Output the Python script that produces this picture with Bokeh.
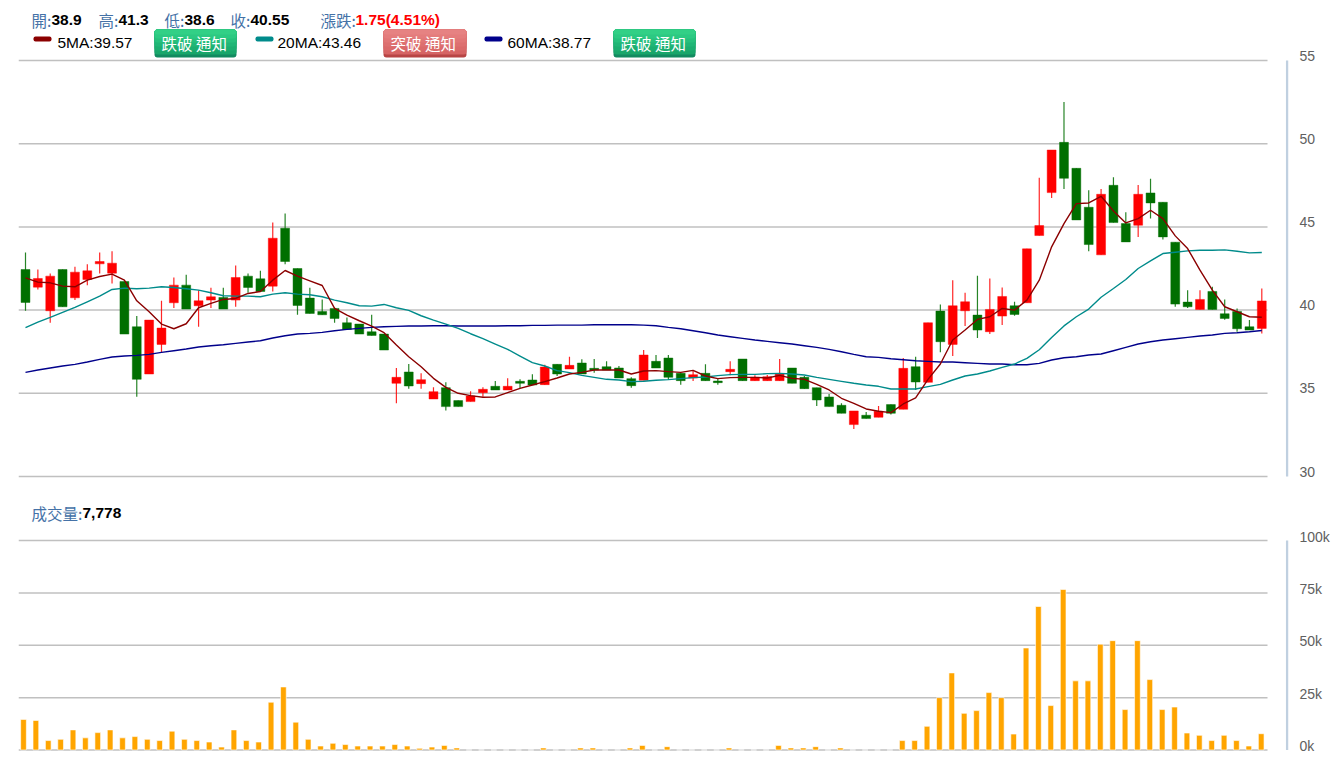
from bokeh.embed import file_html
from bokeh.layouts import column
from bokeh.models import BoxAnnotation, ColumnDataSource, FixedTicker, Label, Range1d
from bokeh.plotting import figure
from bokeh.resources import INLINE

opens = [42.44, 41.38, 39.96, 42.44, 40.74, 41.84, 42.78, 42.22, 41.72, 39.0,
         36.16, 37.94, 40.44, 41.5, 40.26, 40.6, 40.76, 40.6, 42.04, 41.88,
         41.44, 44.92, 42.5, 40.72, 39.92, 40.1, 39.24, 39.16, 38.7, 38.56,
         35.6, 36.28, 35.58, 34.66, 35.34, 34.56, 34.5, 35.04, 35.42, 35.2,
         35.72, 35.8, 35.52, 36.74, 36.46, 36.82, 36.5, 36.6, 36.52, 35.88,
         35.78, 36.92, 37.12, 36.2, 35.92, 36.2, 35.74, 36.3, 37.06, 35.76,
         35.76, 35.76, 36.52, 35.96, 35.34, 34.78, 34.28, 33.12, 33.68, 33.56,
         34.32, 34.04, 36.6, 35.66, 39.94, 37.94, 39.96, 39.7, 38.7, 39.64,
         40.26, 40.44, 44.48, 47.06, 50.08, 48.52, 46.18, 43.32, 47.5, 45.2,
         45.1, 47.04, 46.48, 44.08, 40.48, 40.04, 41.12, 39.78, 39.92, 39.0,
         38.9]
closes = [40.46, 41.9, 42.04, 40.2, 42.28, 42.36, 42.92, 42.82, 38.56, 35.84,
          39.4, 38.92, 41.5, 40.06, 40.56, 40.8, 40.06, 41.96, 41.36, 41.12,
          44.32, 42.92, 40.28, 39.8, 39.72, 39.5, 38.84, 38.56, 38.48, 37.6,
          35.96, 35.44, 35.82, 35.1, 34.2, 34.2, 34.84, 35.24, 35.2, 35.42,
          35.6, 35.5, 36.58, 36.16, 36.68, 36.16, 36.4, 36.4, 35.92, 35.46,
          37.3, 36.52, 35.96, 35.76, 36.12, 35.76, 35.64, 36.44, 35.76, 35.96,
          36.0, 36.16, 35.6, 35.28, 34.6, 34.2, 33.8, 33.94, 33.48, 33.92,
          33.8, 36.5, 35.68, 39.24, 38.1, 40.26, 40.5, 38.8, 40.04, 40.82,
          39.74, 43.68, 45.08, 49.62, 47.92, 45.42, 43.94, 46.96, 45.26, 44.1,
          46.96, 46.44, 44.4, 40.36, 40.2, 40.64, 40.04, 39.5, 38.88, 38.8,
          40.55]
highs = [43.46, 42.44, 42.2, 42.44, 42.6, 42.76, 43.46, 43.54, 41.72, 39.64,
         39.4, 40.56, 41.96, 42.12, 41.2, 41.34, 41.34, 42.68, 42.2, 42.36,
         45.26, 45.8, 42.5, 41.34, 40.64, 40.16, 39.56, 39.16, 39.72, 38.56,
         36.52, 36.76, 36.2, 35.36, 35.66, 34.56, 35.12, 35.36, 35.74, 35.9,
         35.84, 36.14, 36.72, 36.74, 37.2, 37.04, 37.06, 36.92, 36.64, 35.96,
         37.6, 37.3, 37.3, 36.2, 36.34, 36.74, 35.9, 36.92, 37.06, 36.08,
         36.1, 37.06, 36.52, 36.04, 35.34, 34.96, 34.4, 33.94, 33.88, 34.24,
         34.32, 37.12, 37.2, 39.24, 40.34, 41.8, 41.04, 42.06, 41.9, 41.36,
         40.5, 43.68, 47.96, 49.62, 52.5, 48.52, 47.2, 47.28, 47.98, 45.88,
         47.52, 47.9, 46.48, 44.08, 41.2, 41.2, 41.4, 40.64, 40.1, 39.4,
         41.3]
lows = [39.96, 41.24, 39.24, 40.2, 40.6, 41.5, 42.2, 41.6, 38.56, 34.8,
        36.16, 37.44, 40.12, 40.06, 39.0, 40.12, 40.06, 40.2, 41.04, 41.12,
        41.12, 42.76, 39.72, 39.8, 39.72, 39.24, 38.84, 38.56, 38.48, 37.6,
        34.4, 35.28, 35.28, 34.66, 33.96, 34.2, 34.5, 34.8, 35.2, 35.2,
        35.32, 35.5, 35.52, 36.04, 36.46, 36.16, 36.24, 36.4, 35.92, 35.34,
        35.78, 36.52, 35.8, 35.52, 35.74, 35.76, 35.52, 36.08, 35.76, 35.76,
        35.76, 35.76, 35.6, 35.28, 34.24, 34.2, 33.8, 32.86, 33.48, 33.56,
        33.72, 34.04, 35.2, 35.66, 37.46, 37.24, 39.04, 38.32, 38.56, 39.1,
        39.66, 40.44, 44.48, 46.74, 47.28, 45.42, 43.54, 43.32, 45.26, 44.1,
        44.4, 45.5, 44.24, 40.2, 40.12, 40.04, 40.04, 39.42, 38.7, 38.8,
        38.6]

ma5 = [41.94, 41.68, 41.64, 41.44, 41.4, 41.8, 42.02, 42.16, 41.8, 40.56,
       39.9, 39.16, 38.88, 39.18, 40.14, 40.4, 40.64, 40.7, 41.0, 41.12,
       41.8, 42.38, 42.04, 41.76, 41.48, 40.1, 39.7, 39.36, 39.04, 38.64,
       37.9, 37.2, 36.6, 35.9, 35.36, 35.0, 34.86, 34.76, 34.78, 35.04,
       35.3, 35.5, 35.7, 35.92, 36.16, 36.26, 36.4, 36.4, 36.4, 36.16,
       36.34, 36.36, 36.3, 36.26, 36.38, 36.04, 35.88, 35.94, 35.96, 35.96,
       35.92, 36.08, 35.9, 35.84, 35.54, 35.2, 34.7, 34.4, 34.06, 33.92,
       33.84, 34.36, 34.72, 35.84, 36.76, 38.2, 38.8, 39.44, 39.6, 40.1,
       40.0, 40.6, 41.8, 43.8, 45.2, 46.4, 46.44, 46.84, 45.96, 45.24,
       45.5, 46.0, 45.5, 44.46, 43.7, 42.4, 41.2, 40.2, 39.9, 39.6,
       39.57]
ma20 = [38.94, 39.28, 39.56, 39.86, 40.16, 40.5, 40.84, 41.24, 41.32, 41.28,
        41.32, 41.4, 41.36, 41.28, 41.2, 41.04, 40.86, 40.84, 40.84, 40.8,
        40.96, 41.04, 40.96, 40.92, 40.8, 40.6, 40.44, 40.26, 40.24, 40.34,
        40.14, 39.98, 39.66, 39.4, 39.16, 38.9, 38.58, 38.28, 37.96, 37.64,
        37.24, 36.84, 36.64, 36.36, 36.24, 36.08, 35.96, 35.84, 35.8, 35.7,
        35.72, 35.78, 35.82, 35.88, 35.94, 35.98, 36.06, 36.12, 36.14, 36.14,
        36.18, 36.2, 36.16, 36.1, 35.96, 35.84, 35.72, 35.6, 35.5, 35.42,
        35.26, 35.26, 35.26, 35.4, 35.54, 35.8, 36.04, 36.16, 36.34, 36.56,
        36.76, 37.1, 37.62, 38.35, 39.05, 39.6, 40.06, 40.77, 41.3, 41.84,
        42.5, 42.96, 43.4, 43.48, 43.56, 43.6, 43.6, 43.62, 43.54, 43.44,
        43.46]
ma60 = [36.26, 36.4, 36.52, 36.64, 36.74, 36.88, 37.04, 37.18, 37.24, 37.28,
        37.34, 37.46, 37.56, 37.66, 37.78, 37.86, 37.92, 38.0, 38.08, 38.16,
        38.32, 38.46, 38.56, 38.6, 38.66, 38.76, 38.84, 38.9, 38.96, 39.0,
        39.02, 39.04, 39.04, 39.06, 39.06, 39.04, 39.04, 39.04, 39.04, 39.06,
        39.06, 39.08, 39.08, 39.1, 39.1, 39.1, 39.12, 39.12, 39.12, 39.12,
        39.1, 39.06, 38.96, 38.88, 38.76, 38.64, 38.5, 38.4, 38.3, 38.2,
        38.12, 38.04, 37.96, 37.86, 37.76, 37.64, 37.5, 37.34, 37.2, 37.16,
        37.08, 37.02, 36.96, 36.92, 36.88, 36.88, 36.84, 36.8, 36.76, 36.76,
        36.72, 36.72, 36.8, 37.0, 37.14, 37.2, 37.3, 37.36, 37.56, 37.76,
        37.96, 38.1, 38.2, 38.28, 38.36, 38.44, 38.5, 38.6, 38.64, 38.7,
        38.77]
volumes = [14.6, 14.1, 4.5, 5.1, 9.6, 5.8, 8.3, 9.6, 5.8, 6.4,
           5.1, 4.5, 9.0, 5.1, 4.5, 3.8, 1.4, 9.6, 4.5, 3.8,
           22.8, 30.1, 13.3, 5.1, 1.9, 3.2, 2.6, 1.9, 1.9, 1.9,
           2.6, 1.9, 0.8, 1.4, 2.2, 1.0, 0, 0, 0, 0,
           0, 0, 1.0, 0, 0, 1.0, 1.0, 0, 0, 1.0,
           2.2, 0, 1.6, 0, 0, 0, 0, 1.0, 0, 0,
           0, 2.2, 1.0, 1.0, 1.6, 0, 1.0, 0, 0, 0,
           0, 4.5, 4.5, 11.3, 25.0, 36.8, 17.5, 18.8, 27.4, 25.0,
           7.6, 48.7, 68.5, 21.2, 76.6, 33.0, 33.0, 50.5, 52.2, 19.3,
           52.2, 33.6, 19.3, 20.5, 8.1, 7.0, 4.5, 7.0, 4.5, 1.9,
           7.778]

price_ticks = [30, 35, 40, 45, 50, 55]
volume_ticks = [0, 25, 50, 75, 100]

UP = "#ff0000"
DOWN = "#006f00"
GRID = "#c0c0c0"
AXIS = "#c0d0e0"
SANS = "Liberation Sans"
CJK = "Noto Sans CJK TC"
LABEL_BLUE = "#4572a7"

x = list(range(len(closes)))
colors = [UP if c >= o else DOWN for o, c in zip(opens, closes)]


def note(p, top, px, py, text, color="#000000", size="15.5px", bold=False, font=SANS):
    # annotations get clipped to the frame, so the frames run up to the top of each figure
    p.add_layout(Label(x=px, y=py - top, x_units="canvas", y_units="canvas",
                       text=text, text_color=color, text_font_size=size, text_font=font,
                       text_font_style="bold" if bold else "normal",
                       text_baseline="middle", text_align="left"))


def box(p, x0, x1, y0, y1, color, radius=0):
    p.add_layout(BoxAnnotation(left=x0, right=x1, top=y0, bottom=y1,
                               left_units="canvas", right_units="canvas", top_units="canvas", bottom_units="canvas",
                               fill_color=color, fill_alpha=1, line_color=None, border_radius=radius))


def button(p, x0, x1, text, shades, dark):
    # stacked strips stand in for the button's vertical gradient
    box(p, x0, x1, 29, 57, dark, 3)
    box(p, x0, x1, 29, 54, shades[-1], 3)
    for bottom, shade in zip([50, 46, 42, 38, 34], shades[-2::-1]):
        box(p, x0, x1, 29, bottom, shade, 3)
    note(p, 0, x0 + 7, 42, text, "#ffffff", "15.5px", font=CJK)


def base_figure(height, x_start, x_end, y_start, y_end, bottom):
    p = figure(width=1340, height=height, output_backend="svg", toolbar_location=None,
               x_range=Range1d(x_start, x_end), y_range=Range1d(y_start, y_end),
               x_axis_location=None, y_axis_location="right",
               min_border_left=18, min_border_right=52, min_border_top=0, min_border_bottom=bottom,
               outline_line_color=None)
    p.grid.visible = False
    p.yaxis.axis_line_color = None
    p.yaxis.major_tick_line_color = None
    p.yaxis.minor_tick_line_color = None
    p.yaxis.major_label_standoff = 5
    p.yaxis.major_label_text_color = "#606060"
    p.yaxis.major_label_text_font = SANS
    p.yaxis.major_label_text_font_size = "14px"
    return p


# price panel: frame is page x 18..1288, y 0..478, 55 sits at y=60 and 30 at y=476
px_per_bar = 12.363
price_per_px = 5 / 83.2
top_panel = base_figure(490, (18 - 25) / px_per_bar, (1288 - 25) / px_per_bar,
                        30 - 2 * price_per_px, 55 + 60 * price_per_px, 12)
# the labels sit a little above their grid lines
label_shift = 5 * price_per_px
top_panel.yaxis.ticker = FixedTicker(ticks=[t + label_shift for t in price_ticks])
top_panel.yaxis.major_label_overrides = {t + label_shift: str(t) for t in price_ticks}
grid_end = (1267 - 25) / px_per_bar
top_panel.segment([top_panel.x_range.start] * len(price_ticks), price_ticks, [grid_end] * len(price_ticks), price_ticks,
                  line_color=GRID, line_width=1.5)
axis_x = (1286.7 - 25) / px_per_bar
top_panel.line([axis_x, axis_x], [price_ticks[0], price_ticks[-1]], line_color=AXIS, line_width=2.5)

candles = ColumnDataSource(dict(x=x, high=highs, low=lows, color=colors,
                                top=[max(o, c) for o, c in zip(opens, closes)],
                                bottom=[min(o, c) for o, c in zip(opens, closes)]))
top_panel.segment("x", "high", "x", "low", source=candles, line_color="color", line_width=1.2, line_alpha=0.85)
top_panel.vbar("x", 0.72, "top", "bottom", source=candles, fill_color="color", line_color="color",
               line_alpha=0.45, line_width=1)
top_panel.line(x, ma60, line_color="#00008b", line_width=1.4)
top_panel.line(x, ma20, line_color="#008b8b", line_width=1.4)
top_panel.line(x, ma5, line_color="#8b0000", line_width=1.4)

for px, label, val in [(31, "開:", "38.9"), (98, "高:", "41.3"), (164, "低:", "38.6"), (230, "收:", "40.55")]:
    note(top_panel, 0, px, 19, label, LABEL_BLUE, font=CJK)
    note(top_panel, 0, px + 20, 19, val, bold=True)
note(top_panel, 0, 320, 19, "漲跌:", LABEL_BLUE, font=CJK)
note(top_panel, 0, 355, 19, "1.75(4.51%)", UP, bold=True)

for key_x, text_x, color, text in [(33, 57, "#8b0000", "5MA:39.57"), (255, 277, "#008b8b", "20MA:43.46"),
                                   (484, 507, "#00008b", "60MA:38.77")]:
    box(top_panel, key_x, key_x + 18, 36, 41, color, 2)
    note(top_panel, 0, text_x, 42, text)

GREEN_SHADES = ["#32d086", "#2cc982", "#26c07c", "#20b676", "#1cae70", "#18a66a"]
RED_SHADES = ["#e68282", "#e47c7c", "#e17676", "#dd7070", "#da6a6a", "#d66464"]
button(top_panel, 154, 236, "跌破 通知", GREEN_SHADES, "#128a60")
button(top_panel, 383, 466, "突破 通知", RED_SHADES, "#b84545")
button(top_panel, 613, 695, "跌破 通知", GREEN_SHADES, "#128a60")

# volume panel: frame is page x 18..1288, y 490..752, 100k sits at y=540 and 0k at y=749.5
vol_px_per_bar = 12.377
vol_per_px = 100 / 209.5
bottom_panel = base_figure(270, (18 - 23) / vol_px_per_bar, (1288 - 23) / vol_px_per_bar,
                           -2.5 * vol_per_px, 100 + 50 * vol_per_px, 8)
vol_shift = 4 * vol_per_px
bottom_panel.yaxis.ticker = FixedTicker(ticks=[t + vol_shift for t in volume_ticks])
bottom_panel.yaxis.major_label_overrides = {t + vol_shift: f"{t}k" for t in volume_ticks}
vol_grid_end = (1267 - 23) / vol_px_per_bar
bottom_panel.segment([bottom_panel.x_range.start] * len(volume_ticks), volume_ticks,
                     [vol_grid_end] * len(volume_ticks), volume_ticks, line_color=GRID, line_width=1.5)
vol_axis_x = (1286.7 - 23) / vol_px_per_bar
bottom_panel.line([vol_axis_x, vol_axis_x], [volume_ticks[0], volume_ticks[-1]], line_color=AXIS, line_width=2.5)
bottom_panel.vbar(x, 0.46, volumes, 0, fill_color="#ffa500", line_color="#ffffff", line_alpha=0.6, line_width=1)

note(bottom_panel, 490, 31, 512, "成交量:", LABEL_BLUE, font=CJK)
note(bottom_panel, 490, 82, 512, "7,778", bold=True)

layout = column(top_panel, bottom_panel)
open("out.html", "w").write(file_html(layout, INLINE))
